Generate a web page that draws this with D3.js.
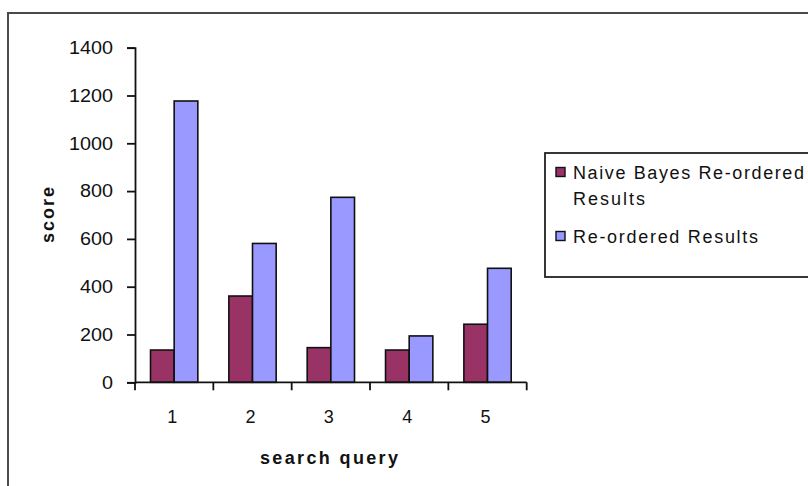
<!DOCTYPE html>
<html>
<head>
<meta charset="utf-8">
<script src="https://cdn.jsdelivr.net/npm/d3@7"></script>
<style>
  html, body { margin: 0; padding: 0; background: #fff; }
  svg { display: block; font-family: "Liberation Sans", Arial, sans-serif; }
</style>
</head>
<body>
<svg id="chart" width="808" height="486"></svg>
<script>
// Scores per search query for the two ranking methods
const categories = ["1", "2", "3", "4", "5"];
const naiveBayes = [135, 361, 145, 135, 243];
const reordered = [1177, 581, 774, 194, 477];
const seriesNames = ["Naive Bayes Re-ordered Results", "Re-ordered Results"];
const seriesColors = ["#993366", "#9999ff"];
const yTicks = [0, 200, 400, 600, 800, 1000, 1200, 1400];

const svg = d3.select("#chart");
const FS = 18;

// outer chart-area frame (right and bottom edges run off the page)
svg.append("rect")
  .attr("x", 8).attr("y", 13)
  .attr("width", 830).attr("height", 500)
  .attr("fill", "#fff")
  .attr("stroke", "#4a4a4a")
  .attr("stroke-width", 2);

const plot = { left: 135, right: 526.7, top: 47.7, bottom: 382.3 };

const y = d3.scaleLinear().domain([0, 1400]).range([plot.bottom, plot.top]);
const x0 = d3.scaleBand().domain(categories)
  .range([plot.left, plot.right])
  .paddingInner(0.396).paddingOuter(0.198);
const x1 = d3.scaleBand().domain([0, 1]).range([0, x0.bandwidth()]);

const rows = categories.map((c, i) => ({ cat: c, vals: [naiveBayes[i], reordered[i]] }));

// bars
const groups = svg.append("g").selectAll("g").data(rows).join("g")
  .attr("transform", d => `translate(${x0(d.cat)},0)`);
groups.selectAll("rect").data(d => d.vals.map((v, k) => ({ v, k }))).join("rect")
  .attr("x", d => x1(d.k))
  .attr("y", d => y(d.v))
  .attr("width", x1.bandwidth())
  .attr("height", d => y(0) - y(d.v))
  .attr("fill", d => seriesColors[d.k])
  .attr("stroke", "#111")
  .attr("stroke-width", 1.6);

// y axis
const yAxis = svg.append("g")
  .attr("transform", `translate(${plot.left},0)`)
  .call(d3.axisLeft(y).tickValues(yTicks).tickFormat(d3.format("d"))
    .tickSize(8).tickSizeOuter(8).tickPadding(14));
yAxis.select(".domain").attr("stroke", "#111").attr("stroke-width", 1.8);
yAxis.selectAll(".tick line").attr("stroke", "#111").attr("stroke-width", 1.8);
yAxis.selectAll(".tick text")
  .attr("font-size", FS).attr("fill", "#111")
  .attr("font-family", "Liberation Sans, Arial, sans-serif")
  .attr("textLength", d => String(d).length * 11)
  .attr("lengthAdjust", "spacingAndGlyphs");

// x axis: baseline plus ticks on category boundaries
const step = x0.step();
const boundaries = d3.range(categories.length + 1).map(i => plot.left + i * step);
const xAxis = svg.append("g");
xAxis.append("line")
  .attr("x1", plot.left).attr("x2", plot.right)
  .attr("y1", y(0)).attr("y2", y(0))
  .attr("stroke", "#111").attr("stroke-width", 1.8);
xAxis.selectAll("line.tk").data(boundaries).join("line")
  .attr("class", "tk")
  .attr("x1", d => d).attr("x2", d => d)
  .attr("y1", y(0)).attr("y2", y(0) + 8)
  .attr("stroke", "#111").attr("stroke-width", 1.8);
xAxis.selectAll("text").data(categories).join("text")
  .attr("x", d => x0(d) + x0.bandwidth() / 2 - 2)
  .attr("y", y(0) + 41)
  .attr("text-anchor", "middle")
  .attr("font-size", FS).attr("fill", "#111")
  .text(d => d);

// axis titles
svg.append("text")
  .attr("x", 329).attr("y", 464)
  .attr("text-anchor", "middle")
  .attr("font-size", FS).attr("font-weight", "bold").attr("fill", "#111")
  .attr("textLength", 138).attr("lengthAdjust", "spacing")
  .text("search query");
svg.append("text")
  .attr("transform", "translate(54,215) rotate(-90)")
  .attr("text-anchor", "middle")
  .attr("font-size", FS).attr("font-weight", "bold").attr("fill", "#111")
  .attr("textLength", 56).attr("lengthAdjust", "spacing")
  .text("score");

// legend
const legend = svg.append("g");
legend.append("rect")
  .attr("x", 545).attr("y", 153)
  .attr("width", 300).attr("height", 124)
  .attr("fill", "#fff").attr("stroke", "#222").attr("stroke-width", 1.8);
const legendItems = [
  { lines: ["Naive Bayes Re-ordered", "Results"], widths: [231, 72], color: seriesColors[0], y: 172 },
  { lines: ["Re-ordered Results"], widths: [185], color: seriesColors[1], y: 236 }
];
legendItems.forEach(item => {
  legend.append("rect")
    .attr("x", 556).attr("y", item.y - 4.5)
    .attr("width", 9).attr("height", 9)
    .attr("fill", item.color).attr("stroke", "#111").attr("stroke-width", 1.4);
  item.lines.forEach((ln, j) => {
    legend.append("text")
      .attr("x", 573).attr("y", item.y + 6.5 + j * 26)
      .attr("font-size", FS).attr("fill", "#111")
      .attr("textLength", item.widths[j]).attr("lengthAdjust", "spacing")
      .text(ln);
  });
});
</script>
</body>
</html>
